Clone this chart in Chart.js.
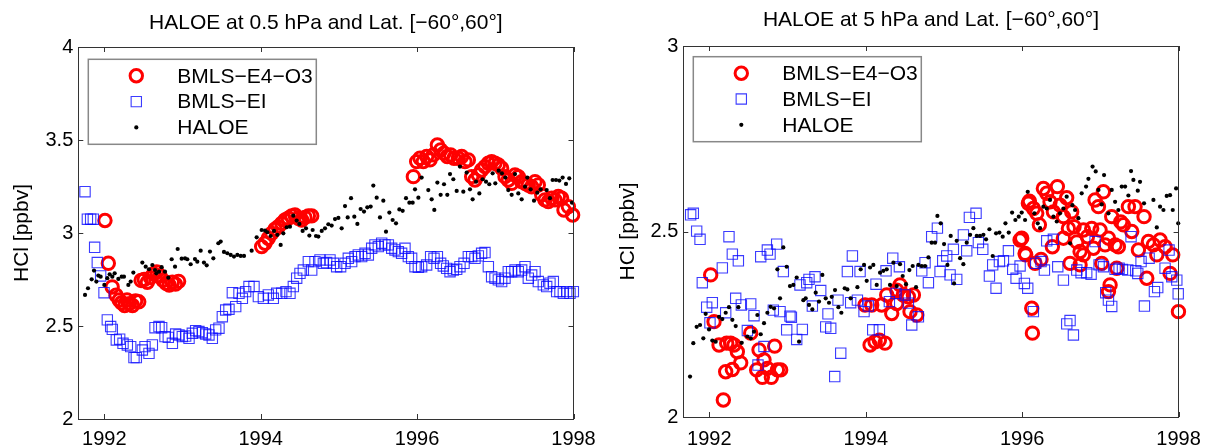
<!DOCTYPE html>
<html>
<head>
<meta charset="utf-8">
<script src="https://cdn.jsdelivr.net/npm/chart.js@4.4.1/dist/chart.umd.min.js"></script>
<style>
html, body { margin: 0; padding: 0; background: #fff; }
#wrap { position: relative; width: 1213px; height: 448px; }
.panel { position: absolute; top: 0; height: 448px; }
</style>
</head>
<body>
<div id="wrap">
  <div class="panel" style="left:0;width:606px"><canvas id="chart05" width="606" height="448"></canvas></div>
  <div class="panel" style="left:606px;width:607px"><canvas id="chart5" width="607" height="448"></canvas></div>
</div>
<script>
// series names and ticks
const seriesNames = ['BMLS\u2212E4\u2212O3', 'BMLS\u2212EI', 'HALOE'];
const xTickYears = [1992, 1994, 1996, 1998];
const yTicks05 = [2, 2.5, 3, 3.5, 4];
const yTicks5 = [2, 2.5, 3];

// ---- 0.5 hPa panel : [year, HCl ppbv] ----
const haloe05 = [
[1991.753,2.667],[1991.791,2.703],[1991.838,2.751],[1991.868,2.798],[1991.898,2.739],[1991.923,2.771],[1991.953,2.765],[1992.0,2.721],
[1992.038,2.757],[1992.068,2.778],[1992.102,2.765],[1992.132,2.783],[1992.179,2.753],[1992.222,2.765],[1992.251,2.765],[1992.307,2.721],
[1992.337,2.739],[1992.371,2.787],[1992.486,2.841],[1992.529,2.819],[1992.571,2.805],[1992.614,2.828],[1992.648,2.801],[1992.665,2.783],
[1992.699,2.792],[1992.733,2.816],[1992.776,2.792],[1992.818,2.760],[1992.861,2.859],[1992.904,2.819],[1992.938,2.914],[1992.989,2.862],
[1993.032,2.864],[1993.061,2.859],[1993.104,2.832],[1993.159,2.860],[1993.189,2.846],[1993.232,2.905],[1993.274,2.841],[1993.309,2.826],
[1993.351,2.900],[1993.394,2.864],[1993.458,2.945],[1993.488,2.954],[1993.530,2.898],[1993.573,2.891],[1993.616,2.882],[1993.658,2.873],
[1993.701,2.882],[1993.744,2.877],[1993.786,2.877],[1993.884,2.905],[1993.948,2.977],[1994.012,3.016],[1994.055,3.013],[1994.085,3.004],
[1994.127,2.984],[1994.170,3.011],[1994.213,2.990],[1994.255,2.936],[1994.289,2.998],[1994.332,3.031],[1994.374,3.034],[1994.417,3.093],
[1994.460,3.067],[1994.494,3.049],[1994.536,3.011],[1994.579,3.025],[1994.622,2.986],[1994.664,3.016],[1994.707,2.984],[1994.737,2.981],
[1994.780,3.011],[1994.822,3.025],[1994.865,3.047],[1994.907,3.040],[1994.950,3.075],[1994.993,3.081],[1995.035,3.025],[1995.078,3.145],
[1995.112,3.084],[1995.155,3.187],[1995.197,3.088],[1995.236,3.049],[1995.278,3.129],[1995.321,3.115],[1995.363,3.138],[1995.406,3.142],
[1995.440,3.255],[1995.483,3.190],[1995.525,3.084],[1995.568,3.174],[1995.602,3.007],[1995.645,3.110],[1995.687,3.070],[1995.730,3.052],
[1995.773,3.127],[1995.815,3.119],[1995.858,3.187],[1995.901,3.163],[1995.943,3.163],[1995.973,3.235],[1996.016,3.190],[1996.058,3.298],
[1996.143,3.231],[1996.186,3.181],[1996.220,3.124],[1996.259,3.271],[1996.301,3.205],[1996.344,3.262],[1996.386,3.205],[1996.421,3.317],
[1996.463,3.289],[1996.506,3.226],[1996.548,3.357],[1996.591,3.222],[1996.634,3.325],[1996.676,3.235],[1996.710,3.181],[1996.753,3.276],
[1996.796,3.213],[1996.838,3.289],[1996.881,3.276],[1996.923,3.262],[1996.966,3.321],[1997.000,3.267],[1997.043,3.335],[1997.085,3.321],
[1997.128,3.298],[1997.166,3.231],[1997.209,3.205],[1997.252,3.317],[1997.294,3.213],[1997.337,3.181],[1997.380,3.249],[1997.409,3.298],
[1997.452,3.235],[1997.495,3.174],[1997.537,3.217],[1997.580,3.235],[1997.657,3.231],[1997.699,3.187],[1997.733,3.285],[1997.776,3.285],
[1997.819,3.282],[1997.861,3.298],[1997.904,3.264],[1997.946,3.294],[1997.981,3.163]
];
const bmlsEI05 = [
[1991.753,3.222],[1991.783,3.074],[1991.825,3.074],[1991.859,3.074],[1991.876,2.923],[1991.910,2.841],[1991.953,2.769],[1991.996,2.679],
[1992.038,2.533],[1992.081,2.497],[1992.102,2.482],[1992.153,2.425],[1992.196,2.429],[1992.239,2.407],[1992.294,2.398],[1992.337,2.389],
[1992.379,2.330],[1992.409,2.330],[1992.486,2.371],[1992.520,2.389],[1992.571,2.353],[1992.614,2.398],[1992.648,2.491],[1992.699,2.497],
[1992.733,2.491],[1992.776,2.443],[1992.818,2.439],[1992.870,2.407],[1992.912,2.457],[1992.955,2.452],[1992.997,2.443],[1993.040,2.446],
[1993.083,2.434],[1993.125,2.461],[1993.168,2.475],[1993.210,2.470],[1993.253,2.464],[1993.296,2.457],[1993.338,2.452],[1993.381,2.434],
[1993.424,2.479],[1993.466,2.488],[1993.509,2.550],[1993.552,2.586],[1993.594,2.590],[1993.637,2.679],[1993.680,2.604],[1993.722,2.676],
[1993.765,2.649],[1993.807,2.685],[1993.850,2.712],[1993.914,2.712],[1993.970,2.658],[1994.034,2.649],[1994.097,2.667],[1994.161,2.649],
[1994.204,2.676],[1994.268,2.676],[1994.323,2.685],[1994.374,2.676],[1994.417,2.712],[1994.460,2.757],[1994.502,2.783],[1994.545,2.801],
[1994.609,2.846],[1994.652,2.801],[1994.694,2.846],[1994.758,2.855],[1994.801,2.837],[1994.843,2.841],[1994.886,2.855],[1994.929,2.837],
[1994.971,2.819],[1995.022,2.819],[1995.078,2.837],[1995.120,2.864],[1995.163,2.846],[1995.206,2.873],[1995.248,2.882],[1995.291,2.873],
[1995.334,2.891],[1995.376,2.882],[1995.419,2.918],[1995.461,2.936],[1995.504,2.927],[1995.547,2.945],[1995.589,2.936],[1995.632,2.936],
[1995.675,2.918],[1995.717,2.909],[1995.760,2.900],[1995.802,2.891],[1995.845,2.918],[1995.888,2.873],[1995.930,2.864],[1995.973,2.819],
[1996.016,2.816],[1996.058,2.819],[1996.122,2.828],[1996.173,2.873],[1996.216,2.864],[1996.259,2.873],[1996.301,2.837],[1996.335,2.823],
[1996.378,2.810],[1996.421,2.792],[1996.463,2.801],[1996.506,2.805],[1996.548,2.819],[1996.600,2.837],[1996.655,2.873],[1996.698,2.873],
[1996.740,2.864],[1996.783,2.877],[1996.825,2.891],[1996.868,2.895],[1996.911,2.819],[1996.953,2.765],[1996.996,2.757],[1997.039,2.748],
[1997.081,2.739],[1997.124,2.757],[1997.166,2.792],[1997.209,2.792],[1997.252,2.801],[1997.294,2.792],[1997.337,2.801],[1997.380,2.819],
[1997.422,2.757],[1997.465,2.774],[1997.508,2.792],[1997.550,2.739],[1997.614,2.721],[1997.657,2.712],[1997.699,2.730],[1997.742,2.739],
[1997.785,2.685],[1997.827,2.685],[1997.870,2.676],[1997.913,2.685],[1997.955,2.676],[1997.998,2.685]
];
const bmlsE4O3_05 = [
[1992.008,3.067],[1992.051,2.837],[1992.100,2.710],[1992.150,2.665],[1992.190,2.640],[1992.220,2.625],[1992.260,2.610],[1992.290,2.640],
[1992.320,2.620],[1992.360,2.610],[1992.400,2.635],[1992.440,2.630],[1992.470,2.745],[1992.510,2.750],[1992.550,2.735],[1992.590,2.760],
[1992.630,2.780],[1992.670,2.790],[1992.710,2.770],[1992.750,2.745],[1992.790,2.730],[1992.830,2.720],[1992.870,2.735],[1992.910,2.725],
[1992.950,2.740],
[1994.012,2.927],[1994.055,2.945],[1994.097,2.972],[1994.140,2.998],[1994.183,3.020],[1994.225,3.034],[1994.268,3.052],[1994.311,3.070],
[1994.353,3.079],[1994.396,3.092],[1994.438,3.097],[1994.481,3.079],[1994.524,3.070],[1994.566,3.084],[1994.609,3.092],[1994.652,3.092],
[1995.952,3.303],[1995.994,3.384],[1996.037,3.402],[1996.079,3.384],[1996.122,3.411],[1996.165,3.393],[1996.207,3.420],[1996.259,3.473],
[1996.301,3.446],[1996.344,3.429],[1996.386,3.411],[1996.429,3.420],[1996.472,3.402],[1996.527,3.402],[1996.570,3.411],[1996.612,3.384],
[1996.655,3.393],[1996.698,3.303],[1996.740,3.285],[1996.783,3.312],[1996.825,3.339],[1996.868,3.357],[1996.911,3.375],[1996.953,3.384],
[1996.996,3.375],[1997.039,3.366],[1997.081,3.348],[1997.124,3.303],[1997.166,3.285],[1997.209,3.267],[1997.252,3.312],[1997.294,3.303],
[1997.337,3.276],[1997.380,3.267],[1997.422,3.258],[1997.465,3.249],[1997.508,3.276],[1997.550,3.258],[1997.593,3.205],[1997.635,3.178],
[1997.678,3.169],[1997.721,3.187],[1997.763,3.178],[1997.806,3.196],[1997.848,3.187],[1997.878,3.124],[1997.934,3.142],[1997.989,3.097]
];

// ---- 5 hPa panel : [year, HCl ppbv] ----
const haloe5 = [
[1991.753,2.109],[1991.795,2.199],[1991.838,2.243],[1991.881,2.248],[1991.923,2.212],[1991.953,2.278],[1991.996,2.236],[1992.038,2.206],
[1992.081,2.203],[1992.124,2.270],[1992.166,2.264],[1992.209,2.281],[1992.251,2.296],[1992.294,2.262],[1992.337,2.245],[1992.371,2.296],
[1992.414,2.200],[1992.486,2.217],[1992.529,2.212],[1992.571,2.230],[1992.614,2.275],[1992.657,2.223],[1992.699,2.253],[1992.742,2.281],
[1992.784,2.297],[1992.827,2.293],[1992.870,2.398],[1992.904,2.320],[1992.946,2.457],[1992.989,2.405],[1993.031,2.353],[1993.074,2.356],
[1993.117,2.376],[1993.147,2.203],[1993.202,2.315],[1993.232,2.320],[1993.274,2.302],[1993.317,2.290],[1993.360,2.335],[1993.402,2.311],
[1993.445,2.383],[1993.488,2.320],[1993.530,2.308],[1993.565,2.324],[1993.607,2.342],[1993.650,2.296],[1993.688,2.281],[1993.731,2.347],
[1993.765,2.344],[1993.807,2.320],[1993.893,2.350],[1993.935,2.398],[1993.978,2.410],[1994.012,2.367],[1994.055,2.403],[1994.097,2.410],
[1994.140,2.356],[1994.183,2.389],[1994.225,2.394],[1994.268,2.398],[1994.310,2.356],[1994.353,2.416],[1994.396,2.353],[1994.438,2.412],
[1994.472,2.380],[1994.515,2.358],[1994.558,2.396],[1994.600,2.407],[1994.643,2.350],[1994.673,2.410],[1994.716,2.407],[1994.758,2.407],
[1994.801,2.430],[1994.843,2.470],[1994.886,2.470],[1994.916,2.542],[1994.958,2.522],[1995.001,2.466],[1995.044,2.410],[1995.086,2.488],
[1995.129,2.360],[1995.163,2.475],[1995.206,2.428],[1995.248,2.412],[1995.291,2.470],[1995.334,2.491],[1995.376,2.509],[1995.419,2.488],
[1995.461,2.488],[1995.504,2.491],[1995.538,2.479],[1995.581,2.506],[1995.623,2.434],[1995.666,2.495],[1995.709,2.497],[1995.751,2.486],
[1995.786,2.522],[1995.828,2.497],[1995.871,2.551],[1995.913,2.531],[1995.956,2.540],[1995.994,2.551],[1996.037,2.531],[1996.071,2.607],
[1996.156,2.549],[1996.199,2.522],[1996.229,2.509],[1996.271,2.567],[1996.314,2.562],[1996.356,2.585],[1996.399,2.540],[1996.442,2.527],
[1996.484,2.549],[1996.527,2.562],[1996.569,2.594],[1996.612,2.468],[1996.642,2.571],[1996.676,2.558],[1996.719,2.536],[1996.761,2.603],
[1996.817,2.621],[1996.847,2.642],[1996.900,2.675],[1996.940,2.662],[1996.975,2.612],[1997.017,2.573],[1997.047,2.652],[1997.103,2.549],
[1997.145,2.612],[1997.188,2.580],[1997.230,2.558],[1997.273,2.621],[1997.316,2.621],[1997.358,2.597],[1997.392,2.663],[1997.422,2.639],
[1997.478,2.610],[1997.507,2.634],[1997.558,2.576],[1997.678,2.585],[1997.721,2.511],[1997.763,2.567],[1997.806,2.558],[1997.848,2.596],
[1997.891,2.598],[1997.925,2.558],[1997.968,2.616],[1997.995,2.522]
];
const bmlsEI5 = [
[1991.761,2.545],[1991.795,2.549],[1991.838,2.501],[1991.881,2.479],[1991.910,2.362],[1991.966,2.296],[1992.008,2.254],[1992.038,2.308],
[1992.166,2.402],[1992.209,2.281],[1992.251,2.486],[1992.294,2.439],[1992.337,2.320],[1992.371,2.421],[1992.409,2.302],[1992.486,2.233],
[1992.529,2.305],[1992.571,2.273],[1992.622,2.140],[1992.657,2.432],[1992.699,2.190],[1992.742,2.450],[1992.776,2.439],[1992.818,2.288],
[1992.861,2.466],[1992.904,2.284],[1992.946,2.392],[1992.989,2.235],[1993.031,2.272],[1993.049,2.269],[1993.117,2.209],[1993.159,2.356],
[1993.189,2.236],[1993.245,2.362],[1993.274,2.371],[1993.317,2.299],[1993.351,2.378],[1993.424,2.341],[1993.488,2.243],[1993.517,2.278],
[1993.552,2.239],[1993.603,2.109],[1993.645,2.315],[1993.680,2.172],[1993.765,2.392],[1993.807,2.308],[1993.829,2.434],[1993.893,2.315],
[1993.927,2.392],[1993.978,2.284],[1994.033,2.299],[1994.089,2.235],[1994.131,2.358],[1994.174,2.235],[1994.259,2.394],[1994.302,2.311],
[1994.345,2.428],[1994.387,2.333],[1994.430,2.405],[1994.502,2.329],[1994.545,2.307],[1994.588,2.248],[1994.673,2.270],[1994.716,2.394],
[1994.758,2.416],[1994.801,2.362],[1994.843,2.486],[1994.916,2.509],[1994.950,2.392],[1994.984,2.421],[1995.035,2.434],[1995.078,2.383],
[1995.120,2.452],[1995.163,2.371],[1995.248,2.491],[1995.291,2.448],[1995.325,2.538],[1995.410,2.549],[1995.440,2.470],[1995.496,2.452],
[1995.581,2.380],[1995.623,2.410],[1995.666,2.347],[1995.709,2.419],[1995.760,2.421],[1995.824,2.448],[1995.879,2.398],[1995.922,2.374],
[1995.973,2.407],[1996.028,2.360],[1996.071,2.347],[1996.143,2.284],[1996.173,2.414],[1996.241,2.419],[1996.284,2.396],[1996.314,2.475],
[1996.399,2.479],[1996.455,2.405],[1996.527,2.369],[1996.570,2.251],[1996.612,2.260],[1996.655,2.221],[1996.698,2.396],[1996.753,2.389],
[1996.825,2.389],[1996.881,2.385],[1996.932,2.473],[1996.983,2.410],[1997.039,2.405],[1997.068,2.335],[1997.103,2.315],[1997.145,2.298],
[1997.188,2.398],[1997.239,2.401],[1997.282,2.398],[1997.350,2.396],[1997.392,2.486],[1997.452,2.394],[1997.478,2.387],[1997.520,2.419],
[1997.563,2.299],[1997.623,2.428],[1997.691,2.338],[1997.733,2.349],[1997.827,2.401],[1997.878,2.450],[1997.913,2.378],[1997.977,2.369],
[1997.995,2.332]
];
const bmlsE4O3_5 = [
[1992.017,2.383],[1992.060,2.257],[1992.124,2.194],[1992.179,2.046],[1992.209,2.122],[1992.222,2.199],[1992.273,2.199],[1992.294,2.128],
[1992.315,2.194],[1992.358,2.176],[1992.401,2.146],[1992.529,2.226],[1992.605,2.127],[1992.635,2.181],[1992.678,2.107],[1992.699,2.154],
[1992.742,2.131],[1992.793,2.107],[1992.835,2.191],[1992.870,2.127],[1992.912,2.127],
[1993.991,2.302],[1994.055,2.194],[1994.076,2.302],[1994.119,2.203],[1994.174,2.207],[1994.204,2.302],[1994.246,2.199],[1994.268,2.329],
[1994.332,2.279],[1994.396,2.306],[1994.396,2.342],[1994.438,2.356],[1994.481,2.329],[1994.545,2.324],[1994.566,2.284],[1994.609,2.329],
[1994.652,2.275],
[1995.973,2.477],[1995.994,2.482],[1996.037,2.441],[1996.045,2.437],[1996.079,2.576],[1996.092,2.582],[1996.122,2.293],[1996.131,2.226],
[1996.143,2.562],[1996.165,2.414],[1996.186,2.549],[1996.220,2.518],[1996.241,2.425],[1996.271,2.616],[1996.314,2.603],[1996.356,2.580],
[1996.386,2.459],[1996.399,2.553],[1996.450,2.621],[1996.484,2.571],[1996.527,2.540],[1996.527,2.482],[1996.569,2.591],[1996.591,2.508],
[1996.612,2.414],[1996.633,2.553],[1996.663,2.513],[1996.698,2.472],[1996.740,2.446],[1996.740,2.410],[1996.783,2.504],[1996.783,2.437],
[1996.834,2.486],[1996.889,2.508],[1996.911,2.455],[1996.932,2.585],[1996.975,2.567],[1996.996,2.504],[1997.017,2.414],[1997.038,2.607],
[1997.060,2.464],[1997.103,2.482],[1997.103,2.338],[1997.124,2.356],[1997.145,2.540],[1997.188,2.464],[1997.209,2.401],[1997.230,2.459],
[1997.260,2.526],[1997.294,2.518],[1997.358,2.567],[1997.401,2.500],[1997.443,2.567],[1997.486,2.450],[1997.558,2.540],[1997.593,2.374],
[1997.614,2.473],[1997.678,2.464],[1997.721,2.437],[1997.763,2.477],[1997.827,2.459],[1997.891,2.387],[1997.925,2.437],[1997.998,2.284]
];

const FONT = '"Liberation Sans", Arial, Helvetica, sans-serif';

function toPoints(pairs) {
  return pairs.map(p => ({x: p[0], y: p[1]}));
}

function markerPath(ctx, style, r, x, y) {
  ctx.beginPath();
  if (style === 'rect') {
    const s = r * Math.SQRT1_2;
    ctx.rect(x - s, y - s, 2 * s, 2 * s);
  } else {
    ctx.arc(x, y, r, 0, Math.PI * 2);
  }
}

// title centred over the plot area
const panelTitle = {
  id: 'panelTitle',
  afterDraw(chart, args, opts) {
    const {ctx, chartArea: a} = chart;
    ctx.save();
    ctx.fillStyle = '#000';
    ctx.font = '21px ' + FONT;
    ctx.textAlign = 'center';
    ctx.textBaseline = 'middle';
    ctx.fillText(opts.text, (a.left + a.right) / 2, opts.y);
    ctx.restore();
  }
};

// box + inward tick marks, like the original axes
const framePlugin = {
  id: 'frame',
  afterDatasetsDraw(chart) {
    const {ctx, chartArea: a, scales} = chart;
    const x = scales.x, y = scales.y;
    ctx.save();
    ctx.strokeStyle = '#333';
    ctx.lineWidth = 1;
    ctx.strokeRect(Math.round(a.left) + 0.5, Math.round(a.top) + 0.5, Math.round(a.width), Math.round(a.height));
    ctx.beginPath();
    x.ticks.forEach(t => {
      const px = Math.round(x.getPixelForValue(t.value)) + 0.5;
      ctx.moveTo(px, a.top); ctx.lineTo(px, a.top + 5);
      ctx.moveTo(px, a.bottom); ctx.lineTo(px, a.bottom - 5);
    });
    y.ticks.forEach(t => {
      const py = Math.round(y.getPixelForValue(t.value)) + 0.5;
      ctx.moveTo(a.left, py); ctx.lineTo(a.left + 5, py);
      ctx.moveTo(a.right, py); ctx.lineTo(a.right - 5, py);
    });
    ctx.stroke();
    ctx.restore();
  }
};

// legend box in the upper-left corner of the plot
const boxLegend = {
  id: 'boxLegend',
  afterDraw(chart, args, opts) {
    const {ctx, chartArea: a} = chart;
    const bx = a.left + opts.dx, by = a.top + opts.dy;
    ctx.save();
    ctx.fillStyle = '#fff';
    ctx.fillRect(bx, by, opts.w, opts.h);
    ctx.strokeStyle = '#888';
    ctx.lineWidth = 1.5;
    ctx.strokeRect(bx, by, opts.w, opts.h);
    chart.data.datasets.forEach((ds, i) => {
      const cy = by + 16.5 + i * 25.8;
      markerPath(ctx, ds.pointStyle, ds.pointRadius, bx + 48, cy);
      if (ds.borderWidth > 0) {
        ctx.lineWidth = ds.borderWidth;
        ctx.strokeStyle = ds.borderColor;
        ctx.stroke();
      } else {
        ctx.fillStyle = ds.backgroundColor;
        ctx.fill();
      }
      ctx.fillStyle = '#000';
      ctx.font = '21px ' + FONT;
      ctx.textBaseline = 'middle';
      ctx.textAlign = 'left';
      ctx.fillText(ds.label, bx + 89, cy + 1);
    });
    ctx.restore();
  }
};

function makeChart(id, title, red, blue, black, yMin, yMax, yTickVals, cfg) {
  return new Chart(document.getElementById(id), {
    type: 'scatter',
    data: {
      datasets: [
        {label: seriesNames[0], data: toPoints(red), pointStyle: 'circle', pointRadius: 6.2,
         borderWidth: 3, borderColor: '#ff0000', backgroundColor: 'rgba(0,0,0,0)', order: 2, clip: false},
        {label: seriesNames[1], data: toPoints(blue), pointStyle: 'rect', pointRadius: 7.3,
         borderWidth: 1.1, borderColor: 'rgba(10,10,255,0.8)', backgroundColor: 'rgba(0,0,0,0)', order: 1, clip: false},
        {label: seriesNames[2], data: toPoints(black), pointStyle: 'circle', pointRadius: 2.1,
         borderWidth: 0, borderColor: '#000', backgroundColor: '#000', order: 0, clip: false}
      ]
    },
    options: {
      responsive: false,
      animation: false,
      events: [],
      layout: {padding: {left: 0, right: cfg.padRight, top: cfg.padTop, bottom: 0}},
      plugins: {
        legend: {display: false},
        tooltip: {enabled: false},
        title: {display: false},
        panelTitle: {text: title, y: cfg.titleY},
        boxLegend: {dx: 10, dy: cfg.legendDy, w: 228, h: 85}
      },
      scales: {
        x: {
          type: 'linear', min: 1991.667, max: 1998,
          grid: {display: false, drawTicks: false},
          border: {display: false},
          afterBuildTicks: s => { s.ticks = xTickYears.map(v => ({value: v})); },
          afterFit: s => { s.height = cfg.xHeight; },
          ticks: {color: '#000', font: {family: FONT, size: 20}, padding: cfg.xPad, maxRotation: 0,
                  callback: v => String(v)}
        },
        y: {
          min: yMin, max: yMax,
          grid: {display: false, drawTicks: false},
          border: {display: false},
          afterBuildTicks: s => { s.ticks = yTickVals.map(v => ({value: v})); },
          afterFit: s => { s.width = cfg.yWidth; },
          ticks: {color: '#000', font: {family: FONT, size: 20}, padding: 5, callback: v => String(v)},
          title: {display: true, text: 'HCl [ppbv]', color: '#000',
                  font: {family: FONT, size: 21}, padding: {top: 10, bottom: 0}}
        }
      }
    },
    plugins: [framePlugin, boxLegend, panelTitle]
  });
}

makeChart('chart05', 'HALOE at 0.5 hPa and Lat. [\u221260\u00b0,60\u00b0]',
  bmlsE4O3_05, bmlsEI05, haloe05, 2, 4, yTicks05,
  {padRight: 32.5, padTop: 47, titleY: 23.5, xHeight: 29, xPad: 8, yWidth: 78.3, legendDy: 12.3});

makeChart('chart5', 'HALOE at 5 hPa and Lat. [\u221260\u00b0,60\u00b0]',
  bmlsE4O3_5, bmlsEI5, haloe5, 2, 3, yTicks5,
  {padRight: 34.4, padTop: 46, titleY: 20.5, xHeight: 31, xPad: 10, yWidth: 77.3, legendDy: 10.7});
</script>
</body>
</html>
